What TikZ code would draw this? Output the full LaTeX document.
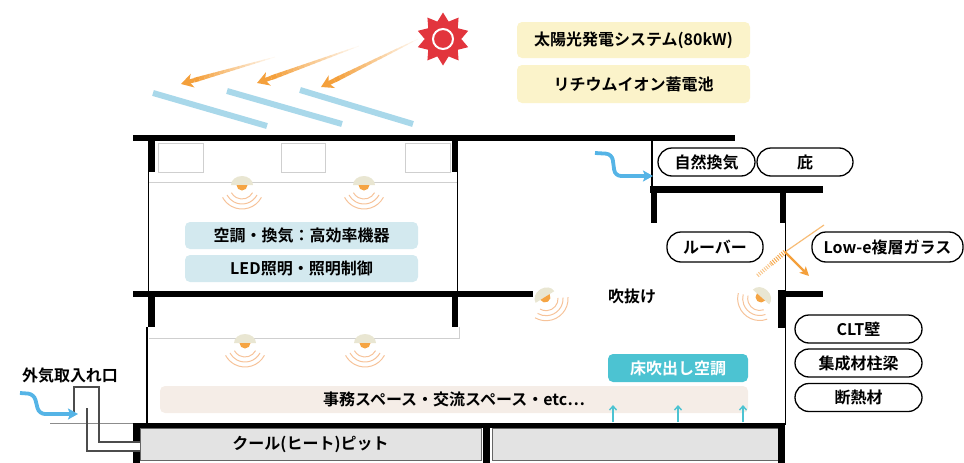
\documentclass[tikz,border=0pt]{standalone}
\usepackage{fontspec}
\setmainfont{Noto Sans CJK JP}[BoldFont={* Bold}]
\usetikzlibrary{arrows.meta,calc,shapes.geometric}

\definecolor{raycol}{HTML}{F4A03C}
\definecolor{panelcol}{HTML}{A9D8EA}
\definecolor{sunred}{HTML}{E2353D}
\definecolor{yellowbox}{HTML}{FBF3CA}
\definecolor{paleblue}{HTML}{D3E9EF}
\definecolor{beigebox}{HTML}{F5EDE7}
\definecolor{cyanbox}{HTML}{4CC3D2}
\definecolor{pitgray}{HTML}{E3E3E3}
\definecolor{airblue}{HTML}{55B4E6}
\definecolor{lampdome}{HTML}{E9E6D2}
\definecolor{lampglow}{HTML}{F5A443}
\definecolor{lampwave}{HTML}{F6C39A}
\definecolor{ceilgray}{HTML}{CFCFCF}

% sun ray: tapering, fading shaft ending in an arrow head
\newcommand\sunray[2]{%
  \foreach \k in {1,...,16}{%
    \pgfmathsetmacro\ka{(\k-1)/16*0.86}%
    \pgfmathsetmacro\kb{\k/16*0.86}%
    \pgfmathsetmacro\kw{0.6+\k*0.25}%
    \pgfmathsetmacro\ko{\k/16}%
    \draw[raycol, line width=\kw pt, draw opacity=\ko] ($(#1)!\ka!(#2)$) -- ($(#1)!\kb!(#2)$);
  }%
  \draw[raycol, line width=4.2pt, -{Stealth[length=12pt,width=14pt,inset=3.5pt]}] ($(#1)!0.86!(#2)$) -- (#2);
}

\tikzset{
  slab/.style={line width=6pt},
  post/.style={line width=6.5pt},
  wall/.style={line width=1.3pt},
  ceil/.style={line width=0.8pt, draw=ceilgray},
  duct/.style={line width=1.2pt, draw=black!70},
  panel/.style={line width=6pt, draw=panelcol},
  pill/.style={draw, line width=1.3pt, rounded corners=14pt, fill=white,
    minimum height=28pt, minimum width=96pt, inner sep=0pt},
  infobox/.style={rounded corners=5pt, inner sep=0pt, minimum height=27pt},
  airflow/.style={airblue, line width=3.8pt, rounded corners=6pt,
    -{Stealth[length=10pt,width=11pt,inset=2pt]}},
  upflow/.style={cyanbox, line width=1.4pt, -{Straight Barb[length=4pt,width=7pt]}},
  lamp/.pic={
    \fill[lampdome] (-11,0) arc[start angle=180,end angle=360,x radius=11,y radius=9] -- cycle;
    \fill[lampglow] (-5.5,0) arc[start angle=180,end angle=0,radius=5.5] -- cycle;
    \foreach \r in {12,17,22}
      \draw[lampwave, line width=1pt] ($(0,2)+(28:\r)$) arc[start angle=28,end angle=152,radius=\r];
  },
}

\begin{document}
\begin{tikzpicture}[x=1pt,y=-1pt, font=\fontsize{16}{18}\selectfont\bfseries]
\useasboundingbox (0,0) rectangle (964,463);

% ---------- sun, rays and solar panels ----------
\node[star, star points=10, star point ratio=1.45, fill=sunred, minimum size=53pt, inner sep=0pt] (sun) at (443,39) {};
\draw[white, line width=2pt] (sun.center) circle[radius=10];

\coordinate (r1t) at (275,57);  \coordinate (r1h) at (181,84);
\coordinate (r2t) at (359,46);  \coordinate (r2h) at (257,83);
\coordinate (r3t) at (418,39);  \coordinate (r3h) at (321,87);

\coordinate (p1a) at (153,93);  \coordinate (p1b) at (267,126);
\coordinate (p2a) at (227,91);  \coordinate (p2b) at (342,124);
\coordinate (p3a) at (300,90);  \coordinate (p3b) at (413,124);
\draw[panel] (p1a) -- (p1b);
\draw[panel] (p2a) -- (p2b);
\draw[panel] (p3a) -- (p3b);

\sunray{r1t}{r1h}
\sunray{r2t}{r2h}
\sunray{r3t}{r3h}

\node[infobox, fill=yellowbox, minimum width=233pt, minimum height=36pt] (solar) at (633.5,40) {太陽光発電システム(80kW)};
\node[infobox, fill=yellowbox, minimum width=233pt, minimum height=38pt] (battery) at (633.5,84) {リチウムイオン蓄電池};

% ---------- upper floor of the office block ----------
\draw[ceil] (149,182) -- (457,182);
\draw[ceil] (158,143) rectangle (203,172);
\draw[ceil] (281,143) rectangle (325,172);
\draw[ceil] (405,143) rectangle (450,172);
\draw[wall] (148.5,172) -- (148.5,294);
\draw[wall] (457.5,172) -- (457.5,294);
\draw[post] (151.5,138) -- (151.5,172);
\draw[post] (455,138) -- (455,172);

\pic at (242,185) {lamp};
\pic at (364,185) {lamp};

\node[infobox, fill=paleblue, minimum width=233pt] (hvac) at (301.5,235.5) {空調・換気：高効率機器};
\node[infobox, fill=paleblue, minimum width=233pt] (led) at (301.5,268.5) {LED照明・照明制御};

% ---------- lower floor ----------
\draw[ceil] (149,338) -- (459,338) -- (459,327);
\draw[wall] (147,327) -- (147,425);
\draw[post] (151.5,294) -- (151.5,327);
\draw[post] (455,294) -- (455,327);

\pic at (245,343) {lamp};
\pic at (365,343) {lamp};

\node[infobox, fill=beigebox, minimum width=588pt] (office) at (454,399.5) {事務スペース・交流スペース・etc⋯};
\node[infobox, fill=cyanbox, text=white, minimum width=140pt, minimum height=28pt] (floorac) at (678,368) {床吹出し空調};

\coordinate (u1a) at (613,422); \coordinate (u1b) at (613,405);
\coordinate (u2a) at (678,422); \coordinate (u2b) at (678,405);
\coordinate (u3a) at (743,422); \coordinate (u3b) at (743,405);
\draw[upflow] (u1a) -- (u1b);
\draw[upflow] (u2a) -- (u2b);
\draw[upflow] (u3a) -- (u3b);

% ---------- atrium and facade ----------
\draw[wall] (652,138) -- (652,189);
\draw[line width=7pt] (650,189) -- (823,189);
\draw[post] (654,189) -- (654,223);
\draw[post] (783,189) -- (783,223);
\draw[wall] (785.5,223) -- (785.5,425);
\draw[slab] (780,293.5) -- (823,293.5);
\draw[post] (781.5,290) -- (781.5,328);

\pic[rotate=32] at (545,297) {lamp};
\pic[rotate=-42] at (761,297) {lamp};

\node (atrium) at (632,296) {吹抜け};

% light hitting the glazing
\coordinate (gl) at (785,252);
\coordinate (gsun) at (824,225);
\coordinate (gin) at (809,276);
\coordinate (gmid) at (771,264);
\coordinate (gref) at (757,276);
\draw[raycol, line width=1.2pt, draw opacity=0.7] (gsun) -- (gl);
\draw[raycol, line width=5pt, dash pattern=on 1pt off 1.4pt, draw opacity=0.9] (gl) -- (gmid);
\draw[raycol, line width=4pt, dash pattern=on 1pt off 1.4pt, draw opacity=0.6] (gmid) -- (gref);
\draw[raycol, line width=2.4pt, -{Stealth[length=9pt,width=9pt,inset=2pt]}] (gl) -- (gin);

% roof and floor slabs
\draw[slab] (133,138) -- (735,138);
\draw[slab] (133,294) -- (533,294);
\draw[line width=5pt] (133,425.5) -- (785,425.5);

% natural ventilation inflow
\coordinate (nv0) at (595,153);
\coordinate (nv1) at (612,154);
\coordinate (nv2) at (615,176);
\coordinate (nv3) at (653,176);
\draw[airflow] (nv0) -- (nv1) -- (nv2) -- (nv3);

% labels on the right
\node[pill, minimum width=97pt] (natvent) at (706.5,162) {自然換気};
\node[pill] (eave) at (805,162) {庇};
\node[pill, minimum height=30pt] (louver) at (715,247) {ルーバー};
\node[pill, minimum height=30pt, minimum width=151pt] (lowe) at (887.5,247) {Low-e複層ガラス};
\node[pill, minimum width=127pt] (clt) at (858.5,329) {CLT壁};
\node[pill, minimum width=127pt] (glulam) at (858.5,363) {集成材柱梁};
\node[pill, minimum width=127pt] (insul) at (858.5,397.5) {断熱材};

% ---------- cool (heat) pit and outside air intake ----------
\node[draw=black!60, line width=0.8pt, fill=pitgray, minimum width=341pt, minimum height=32pt, inner sep=0pt] (pitA) at (310.5,444) {クール(ヒート)ピット};
\node[draw=black!60, line width=0.8pt, fill=pitgray, minimum width=286pt, minimum height=32pt, inner sep=0pt] (pitB) at (635,444) {};
\draw[post] (486.5,428) -- (486.5,463);
\draw[post] (781.5,423) -- (781.5,463);
\draw[post] (136.5,423) -- (136.5,442);
\draw[post] (136.5,451) -- (136.5,463);

\draw[line width=0.8pt, draw=black!45] (50,423) -- (133,423);
\coordinate (da) at (74,415);
\coordinate (db) at (74,387);
\coordinate (dc) at (99,387);
\coordinate (dd) at (99,442);
\coordinate (de) at (140,442);
\coordinate (df) at (87,408);
\coordinate (dg) at (87,451);
\coordinate (dh) at (140,451);
\draw[duct] (da) -- (db) -- (dc) -- (dd) -- (de);
\draw[duct] (df) -- (dg) -- (dh);

\coordinate (oa0) at (20,393);
\coordinate (oa1) at (34,394);
\coordinate (oa2) at (39,414);
\coordinate (oa3) at (78,414);
\draw[airflow] (oa0) -- (oa1) -- (oa2) -- (oa3);

\node (intake) at (70,376) {外気取入れ口};
\end{tikzpicture}
\end{document}
